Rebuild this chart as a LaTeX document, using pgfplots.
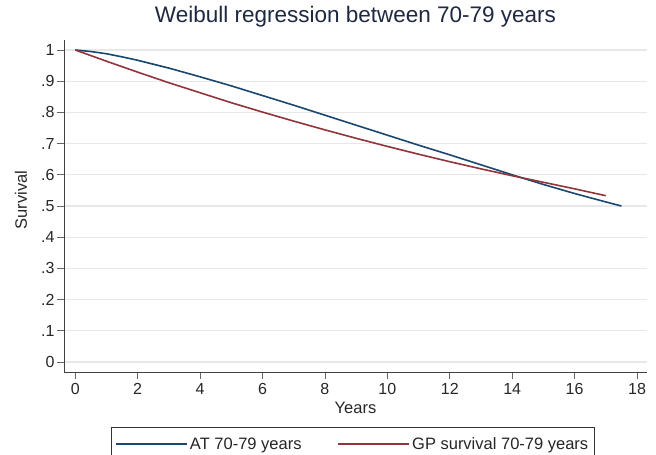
\documentclass[border=0pt]{standalone}
\usepackage{pgfplots}
\pgfplotsset{compat=1.18}
\usepackage{fontspec}
\setmainfont{Liberation Sans}
\definecolor{atblue}{HTML}{1A476F}
\definecolor{gpred}{HTML}{90353B}
\definecolor{titlecol}{RGB}{30,40,65}
\definecolor{gridcol}{RGB}{232,232,232}
\begin{document}
\begin{tikzpicture}
\begin{axis}[
  at={(0,0)}, anchor=south west,
  scale only axis, width=583pt, height=332pt,
  xmin=-0.36, xmax=18.32, ymin=-0.032, ymax=1.032,
  axis x line*=bottom, axis y line*=left,
  axis line style={black!75, line width=0.8pt},
  xtick={0,2,...,18},
  ytick={0,0.1,...,1.0},
  yticklabels={0,.1,.2,.3,.4,.5,.6,.7,.8,.9,1},
  tick align=outside, major tick length=7pt,
  tick style={black!60, line width=0.8pt},
  ymajorgrids, grid style={gridcol, line width=1.3pt},
  /pgf/number format/assume math mode=true,
  tick label style={font=\fontsize{16}{18}\selectfont, text=black!85},
  xticklabel style={yshift=-1pt},
  yticklabel style={xshift=1pt},
  title={Weibull regression between 70-79 years},
  title style={at={(axis description cs:0.5,1)}, anchor=base, yshift=11pt,
    font=\fontsize{22.5}{26}\selectfont, text=titlecol},
  xlabel={Years},
  xlabel style={at={(axis description cs:0.5,0)}, anchor=base, yshift=-41pt,
    font=\fontsize{16.5}{18}\selectfont, text=black!85},
  ylabel={Survival},
  ylabel style={at={(axis description cs:-0.0738,0.518)}, anchor=center,
    font=\fontsize{16.5}{18}\selectfont, text=black!85},
  legend columns=2,
  legend style={at={(axis description cs:0.0806,-0.1657)}, anchor=north west,
    draw=black!80, line width=0.8pt, inner xsep=4pt, inner ysep=8pt,
    font=\fontsize{16.5}{18}\selectfont, text=black!85,
    /tikz/every even column/.append style={column sep=34pt}},
  legend image code/.code={\draw[#1, line width=1.2pt] (0pt,0pt) -- (62pt,0pt);
    \path (0pt,0pt) -- (71pt,0pt);},
  legend cell align=left,
]
\addplot[atblue, line width=1.6pt] coordinates {
(0,1.000) (0.5,0.995) (1,0.988) (1.5,0.978) (2,0.967) (3,0.942) (4,0.914)
(5,0.885) (6,0.854) (7,0.823) (8,0.791) (9,0.759) (10,0.727) (11,0.695)
(12,0.664) (13,0.632) (14,0.600) (15,0.569) (16,0.540) (17,0.513) (17.5,0.500)};
\addlegendentry{AT 70-79 years}
\addplot[gpred, line width=1.6pt] coordinates {
(0,1.000) (1,0.964) (2,0.929) (3,0.895) (4,0.863) (5,0.831) (6,0.801)
(7,0.772) (8,0.744) (9,0.717) (10,0.691) (11,0.666) (12,0.642) (13,0.619)
(14,0.597) (15,0.576) (16,0.555) (17,0.533)};
\addlegendentry{GP survival 70-79 years}
\end{axis}
\pgfresetboundingbox
\useasboundingbox (-64pt,-83pt) rectangle (592pt,372pt);
\end{tikzpicture}
\end{document}
